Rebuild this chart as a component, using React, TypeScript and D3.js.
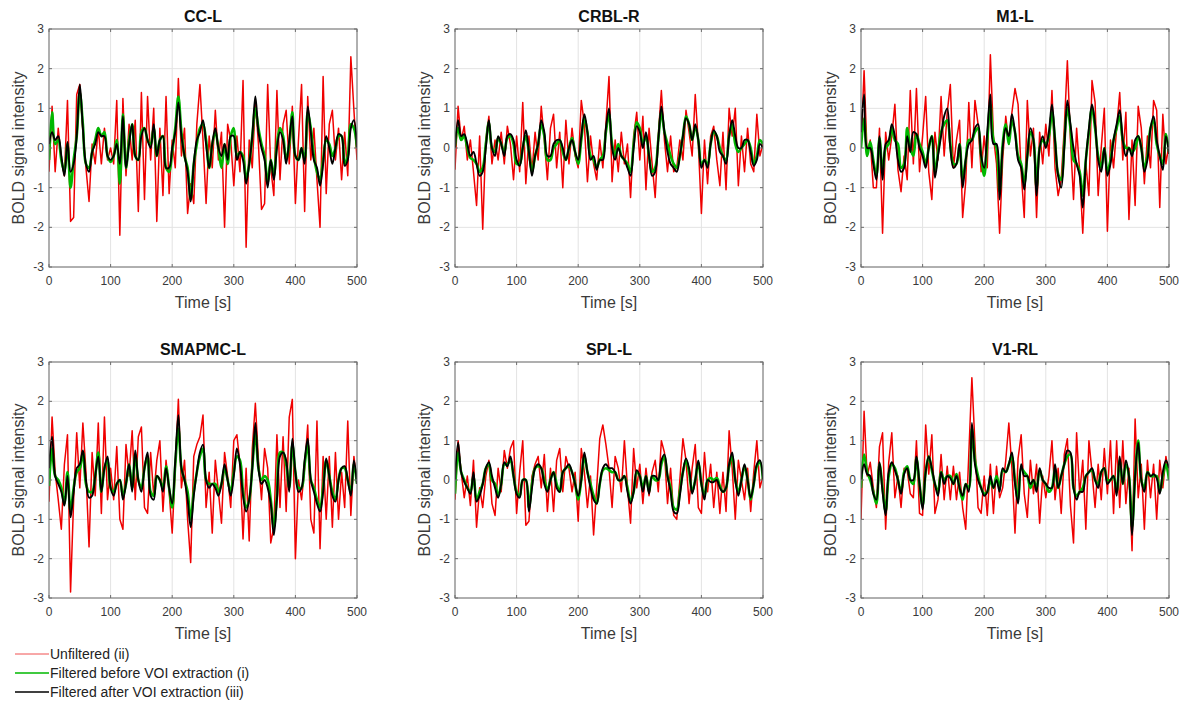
import React from "react";
import * as d3 from "d3";

// ---------- data ----------
const TIME_STEP = 5; // seconds between samples, t = 0..500
const X_TICKS = [0, 100, 200, 300, 400, 500];
const Y_TICKS = [-3, -2, -1, 0, 1, 2, 3];
const TITLES = ["CC-L", "CRBL-R", "M1-L", "SMAPMC-L", "SPL-L", "V1-RL"];
const LEGEND_LABELS = [
  "Unfiltered (ii)",
  "Filtered before VOI extraction (i)",
  "Filtered after VOI extraction (iii)",
];

// CC-L
const ccRed = [
  -0.6, 1.05, -0.6, 0.5, -0.3, -0.7, 1.2, -1.85, -1.75, 1.35,
  1.6, 0.4, -0.5, -1.35, 0.1, -0.4, 0.5, -0.4, 0.5, -0.3,
  0.0, -0.4, 1.2, -2.2, 1.25, -0.7, 0.6, -0.3, 0.7, -1.6,
  1.4, -1.3, 1.3, -0.3, 1.0, -1.85, 0.5, -1.2, 1.3, -1.15,
  0.2, -0.5, 1.75, -0.2, 0.5, -1.65, -0.9, -1.4, 0.6, 1.6,
  0.2, -1.4, 0.3, -0.5, 0.95, -0.3, 0.4, -2.0, 0.6, 0.2,
  -0.95, 0.3, -0.6, 1.7, -2.5, 0.2, -0.5, 1.2, 0.1, -1.55,
  -1.4, 1.6, -0.5, -1.2, 1.45, -0.8, 0.6, 0.95, -0.4, 1.05,
  -1.4, 0.2, 1.6, -1.6, 1.3, -0.3, 0.5, -0.8, -2.0, 1.8,
  -1.15, 0.6, 0.95, -0.3, 0.5, -0.8, 0.4, -0.7, 2.3, 0.95,
  -0.3,
];
const ccBlack = [
  0.1, 0.4, 0.2, 0.3, -0.2, -0.7, 0.15, -0.6, -0.4, 0.3,
  1.6, 0.5, -0.4, -0.6, -0.1, 0.1, 0.4, 0.3, 0.3, -0.2,
  -0.3, -0.2, 0.1, -0.4, 0.8, -0.5, 0.1, 0.6, -0.2, -0.3,
  0.3, 0.5, 0.2, 0.0, 0.6, -0.2, 0.2, 0.3, -0.5, -0.5,
  0.0, 0.4, 1.15, 0.3, -0.2, -0.6, -1.35, -0.4, 0.2, 0.4,
  0.7, 0.1, -0.5, 0.1, 0.5, 0.0, -0.2, 0.1, -0.3, 0.3,
  0.3, -0.3, -0.1, -0.3, -0.9, -0.4, 0.3, 1.3, 0.4, 0.0,
  -0.3, -1.0, -0.3, -0.8, 0.0, 0.4, 0.2, -0.4, 0.2, 0.8,
  -0.2, -0.3, 0.0, -0.4, 1.05, 0.4, -0.3, -0.5, -0.95, -0.4,
  0.3, 0.0, -0.4, 0.0, 0.35, 0.3, -0.45, -0.3, 0.5, 0.7,
  0.0,
];
const ccGreen = [
  -0.3, 0.9, 0.1, 0.2, -0.3, -0.6, 0.1, -1.0, -0.3, 0.3,
  1.4, 0.6, -0.4, -0.5, -0.1, 0.2, 0.5, 0.3, 0.4, -0.2,
  -0.35, -0.2, 0.2, -0.9, 0.85, -0.5, 0.2, 0.6, -0.2, -0.3,
  0.4, 0.5, 0.2, 0.1, 0.5, -0.2, 0.2, 0.3, -0.5, -0.6,
  -0.1, 0.5, 1.3, 0.4, -0.2, -0.5, -1.3, -0.4, 0.1, 0.5,
  0.6, 0.2, -0.5, 0.1, 0.4, 0.0, -0.5, 0.1, -0.4, 0.3,
  0.5, -0.2, -0.1, -0.2, -0.8, -0.4, 0.3, 1.0, 0.5, 0.1,
  -0.2, -0.9, -0.3, -0.7, 0.1, 0.5, 0.3, -0.3, 0.1, 0.9,
  -0.2, -0.3, 0.0, -0.3, 0.9, 0.5, -0.2, -0.6, -0.8, -0.3,
  0.2, 0.1, -0.2, 0.0, 0.3, 0.3, -0.4, -0.2, 0.6, 0.5,
  0.0,
];

// CRBL-R
const crblRed = [
  -0.55, 1.05, 0.2, 0.55, -0.3, 0.2, -0.6, -1.45, 0.3, -2.05,
  0.2, 0.8, -0.4, 0.2, -0.3, 0.4, -0.4, 0.55, 0.1, -0.8,
  0.3, -0.6, 1.15, -0.9, 0.3, -0.6, 0.4, -0.3, 1.05, 0.2,
  -0.8, 0.5, 0.85, -0.5, 0.4, -1.0, 0.7, -0.4, 0.5, -0.2,
  -0.5, 1.2, 0.6, -0.85, 0.3, -0.4, -0.8, 0.2, -0.5, 0.6,
  1.8, -0.85, 0.2, -0.6, 0.4, -0.4, 0.1, -1.25, 0.3, 0.9,
  -0.3, 0.8, -1.05, 0.5, -0.4, -1.25, 0.3, 1.45, 0.2, -0.6,
  0.3, -0.6, -0.5, 0.2, -0.3, 0.95, 0.4, -0.2, 1.35, 0.1,
  -1.65, 0.2, -0.9, 0.3, 0.55, -0.3, -0.95, 0.4, -1.05, 1.0,
  0.3, 1.0, -0.95, 0.3, -0.6, 0.5, -0.4, -0.6, 0.85, -0.2,
  0.1,
];
const crblBlack = [
  0.0, 0.7, 0.3, 0.35, 0.1, -0.2, -0.1, -0.4, -0.7, -0.6,
  0.0, 0.7, 0.0, -0.2, 0.3, 0.1, -0.2, 0.3, 0.35, 0.2,
  -0.3, -0.45, 0.0, 0.45, -0.1, -0.7, -0.2, 0.1, 0.7, 0.4,
  -0.2, -0.2, 0.1, 0.2, 0.2, 0.0, -0.3, 0.0, 0.2, -0.1,
  -0.3, 0.3, 0.85, 0.4, -0.3, -0.2, -0.55, -0.3, -0.3, 0.5,
  1.0, 0.0, -0.3, 0.0, -0.2, -0.3, -0.5, -0.7, 0.0, 0.55,
  0.4, 0.0, 0.4, -0.2, -0.7, -0.6, 0.2, 1.05, 0.4, -0.1,
  -0.4, -0.5, -0.6, -0.2, 0.3, 0.75, 0.6, 0.2, 0.6, 0.2,
  -0.5, -0.3, -0.5, 0.1, 0.45, 0.3, -0.1, -0.2, -0.4, 0.3,
  0.7, 0.3, 0.0, 0.0, 0.2, 0.2, -0.1, -0.45, -0.3, 0.1,
  0.0,
];
const crblGreen = [
  0.05, 0.5, 0.2, 0.3, 0.0, -0.25, -0.3, -0.4, -0.6, -0.5,
  0.1, 0.65, 0.0, -0.1, 0.25, 0.1, -0.1, 0.25, 0.3, 0.1,
  -0.4, -0.4, 0.0, 0.3, -0.1, -0.6, -0.2, 0.1, 0.6, 0.3,
  -0.3, -0.3, 0.0, 0.1, 0.2, -0.1, -0.3, 0.0, 0.25, -0.1,
  -0.4, 0.2, 0.75, 0.4, -0.2, -0.3, -0.5, -0.3, -0.2, 0.4,
  0.85, 0.1, -0.2, 0.1, -0.2, -0.3, -0.4, -0.6, 0.1, 0.65,
  0.5, 0.1, 0.3, -0.2, -0.6, -0.5, 0.2, 0.9, 0.4, 0.1,
  -0.2, -0.4, -0.5, -0.2, 0.3, 0.8, 0.6, 0.2, 0.55, 0.2,
  -0.4, -0.3, -0.4, 0.1, 0.4, 0.3, 0.0, -0.2, -0.3, 0.3,
  0.6, 0.1, -0.1, 0.0, 0.1, 0.2, 0.0, -0.4, -0.2, 0.2,
  0.1,
];

// M1-L
const m1Red = [
  0.0, 1.95, -0.2, 0.2, -1.0, -1.0, 0.5, -2.15, 0.4, -0.3,
  0.3, 1.1, -0.55, -1.1, -0.2, -0.8, 1.45, -0.4, 1.5, -0.6,
  0.3, 1.3, -0.6, -1.3, 0.4, -0.3, 1.3, -0.2, 0.9, 1.6,
  -0.5, 0.2, 0.7, -1.75, -0.85, 1.15, -0.5, 1.2, 0.6, -0.6,
  0.3, -0.5, 2.35, 0.3, -0.4, -2.15, -0.3, 0.8, 0.1, 0.9,
  1.5, 1.1, -0.6, -1.75, 1.2, -0.2, 0.5, -1.75, 0.4, -0.4,
  0.6, -0.2, 1.45, -0.5, -1.2, -0.8, 0.5, 2.2, 0.2, -1.3,
  0.5, -0.6, -2.15, -0.4, -1.2, 1.7, 1.15, -1.2, 0.0, 1.0,
  -2.1, 0.2, -0.5, 0.5, 1.4, -0.3, 0.9, -1.8, 0.2, -1.45,
  1.05, 0.5, -0.9, 0.3, -0.5, 1.2, 0.95, -1.5, 0.85, -0.4,
  0.1,
];
const m1Black = [
  0.4, 1.35, 0.0, 0.0, -0.4, -0.8, 0.3, -0.8, 0.1, 0.2,
  0.6, 0.3, -0.3, -0.6, -0.5, 0.3, -0.1, 0.4, 0.35, 0.0,
  -0.2, -0.5, 0.0, 0.3, -0.75, -0.2, 0.3, 0.8, 1.0, 0.0,
  -0.5, -0.4, 0.1, -1.0, -0.3, 0.1, 0.2, 0.5, 0.6, -0.2,
  -0.5, 0.4, 1.35, 0.1, 0.1, -1.3, 0.0, 0.5, 0.3, 0.85,
  0.4, -0.3, -0.5, -1.05, -0.2, 0.5, 0.2, -1.2, 0.0, 0.3,
  0.0, 0.4, 1.1, 0.2, -0.7, -1.0, 0.0, 1.2, 0.6, 0.0,
  -0.4, -0.7, -1.5, -0.3, 0.5, 1.1, 0.6, -0.3, -0.6, 0.0,
  -0.7, -0.4, 0.2, 0.6, 0.95, 0.2, -0.2, 0.0, -0.2, 0.2,
  0.3, 0.0, -0.6, -0.3, 0.5, 0.8, 0.2, -0.2, -0.55, 0.3,
  -0.15,
];
const m1Green = [
  0.0, 0.75, -0.2, 0.15, -0.3, -0.7, 0.25, -0.6, 0.0, 0.1,
  0.5, 0.2, 0.1, -0.5, -0.4, 0.5, 0.0, -0.2, 0.35, 0.1,
  -0.1, -0.4, 0.0, 0.3, -0.6, -0.1, 0.4, 0.6, 0.7, 0.1,
  -0.4, -0.4, 0.1, -0.8, -0.3, 0.2, 0.2, 0.4, 0.5, -0.2,
  -0.7, 0.2, 1.1, 0.2, 0.0, -1.1, 0.1, 0.6, 0.1, 0.7,
  0.4, -0.2, -0.4, -0.9, -0.2, 0.4, 0.2, -1.0, 0.0, 0.2,
  0.1, 0.3, 0.9, 0.2, -0.65, -0.8, 0.1, 1.0, 0.5, -0.3,
  -0.4, -0.6, -1.2, -0.3, 0.4, 1.0, 0.5, -0.2, -0.5, 0.0,
  -0.6, -0.3, 0.2, 0.5, 0.8, 0.2, 0.0, 0.0, -0.1, 0.0,
  0.3, 0.0, -0.5, -0.2, 0.5, 0.7, 0.1, -0.2, -0.4, 0.35,
  -0.1,
];

// SMAPMC-L
const smaRed = [
  -0.55, 1.6, 0.2, -0.5, -1.25, 0.4, 1.15, -2.85, -0.5, 1.2,
  -0.2, 1.45, 0.2, -1.7, 0.7, -0.4, 1.45, -0.85, 1.6, -0.5,
  0.3, -0.5, 0.85, -1.0, -1.25, 0.9, 0.1, 1.25, -0.5, 1.1,
  1.35, -0.7, -0.85, 0.7, -0.4, 0.5, 1.0, -0.8, 0.5, -0.3,
  -1.35, 0.3, 2.05, -0.2, 0.5, -1.0, -2.1, 0.6, 0.9, 1.1,
  1.65, -0.7, 0.2, -1.35, 0.5, -0.3, -1.1, 0.7, 0.1, -0.7,
  1.0, 1.15, 0.4, -1.5, 0.3, -1.55, 0.8, 1.95, 0.5, -0.5,
  0.8, 0.3, -1.6, -1.2, 1.15, -0.7, 1.1, -0.8, 1.6, 2.05,
  -2.0, 0.0, -0.5, 0.3, 1.4, -1.0, -1.35, 1.5, -1.75, 0.6,
  -1.0, 0.6, -1.2, 0.7, -1.0, 0.2, -0.7, 1.5, -0.9, 0.6,
  -0.1,
];
const smaBlack = [
  0.3, 1.1, 0.1, -0.1, -0.3, -0.65, 0.1, -0.95, -0.3, 0.3,
  0.4, 0.75, 0.0, -0.45, -0.4, 0.1, 0.6, -0.3, 0.3, 0.6,
  -0.2, -0.4, -0.1, 0.0, -0.5, -0.1, 0.4, -0.3, 0.75, 0.0,
  -0.3, 0.3, 0.7, -0.4, -0.5, 0.1, 0.0, -0.3, 0.3, -0.2,
  -0.6, 0.5, 1.65, 0.3, 0.0, -0.5, -1.2, -0.4, 0.2, 0.7,
  0.9, 0.0, -0.2, -0.1, -0.2, -0.4, -0.1, 0.4, 0.0, -0.4,
  0.1, 0.8, 0.4, -0.4, -0.8, -0.5, 0.3, 1.45, 0.3, -0.1,
  0.0, -0.2, -0.6, -1.4, -0.5, 0.6, 0.7, 0.5, -0.3, 1.05,
  0.2, -0.3, -0.2, 0.5, 1.05, 0.0, -0.3, -0.6, -0.8, -0.3,
  0.55, 0.1, -0.4, -0.55, 0.0, 0.3, 0.35, 0.0, -0.4, 0.5,
  -0.1,
];
const smaGreen = [
  -0.15, 0.8, 0.1, 0.0, -0.2, -0.6, 0.2, -0.8, -0.2, 0.2,
  0.3, 0.7, -0.1, -0.3, -0.3, 0.1, 0.7, -0.3, 0.3, 0.5,
  -0.2, -0.3, -0.1, 0.0, -0.4, -0.1, 0.4, -0.2, 0.65, 0.0,
  -0.2, 0.3, 0.6, -0.3, -0.4, 0.1, 0.0, -0.2, 0.35, -0.2,
  -0.7, 0.4, 1.3, 0.3, 0.0, -0.3, -1.0, -0.3, 0.2, 0.6,
  0.8, 0.0, -0.1, -0.1, -0.1, -0.3, -0.1, 0.3, 0.0, -0.3,
  0.2, 0.6, 0.5, -0.3, -0.7, -0.5, 0.3, 1.2, 0.3, 0.0,
  0.1, 0.0, -0.5, -1.2, -0.4, 0.7, 0.7, 0.4, -0.2, 0.9,
  0.2, -0.2, -0.2, 0.4, 0.9, 0.0, -0.2, -0.5, -0.7, -0.2,
  0.5, 0.1, -0.3, -0.5, 0.0, 0.3, 0.3, 0.0, -0.3, 0.4,
  -0.1,
];

// SPL-L
const splRed = [
  -0.5, 1.0, 0.2, -0.45, 0.1, -0.65, 0.5, -1.2, -0.2, -0.7,
  0.1, 0.5, -0.6, -0.9, 0.3, -0.3, 0.75, 0.3, 0.8, 1.0,
  -0.85, 0.2, 1.0, -1.15, -1.05, 0.1, 0.4, 0.6, -0.2, 0.65,
  -0.8, 0.3, -0.8, 0.5, 0.8, -0.3, 0.6, 0.3, -0.3, 0.2,
  -1.05, 0.8, 0.2, -0.7, 0.1, -1.4, -0.2, 1.05, 1.4, 0.9,
  0.3, -0.7, 0.6, 0.3, -0.3, 1.0, -0.2, -1.1, 0.8, -0.2,
  0.4, -0.6, 0.3, -0.4, 0.2, 0.5, -0.3, 1.0, 0.7, -0.6,
  0.3, -0.9, -1.0, 0.0, 1.05, 0.5, -0.6, 0.3, 0.9, -0.7,
  -0.85, 0.7, -0.3, 0.4, -0.7, 0.2, -0.85, 0.2, -0.8, 1.25,
  0.3, -1.0, 0.5, 0.0, -0.5, 0.3, -0.8, 0.2, 1.0, -0.2,
  0.1,
];
const splBlack = [
  0.0, 0.95, 0.2, -0.05, -0.2, -0.35, 0.2, -0.55, -0.4, -0.1,
  0.3, 0.45, 0.1, -0.2, -0.45, -0.1, 0.45, 0.35, 0.6, 0.1,
  -0.35, -0.45, 0.0, 0.0, -0.8, -0.2, 0.3, 0.4, 0.3, -0.1,
  -0.3, 0.0, 0.2, -0.2, -0.3, 0.2, 0.3, 0.4, 0.2, -0.1,
  -0.4, 0.0, 0.7, 0.2, -0.2, -0.5, -0.6, -0.1, 0.3, 0.4,
  0.3, 0.3, 0.2, 0.0, 0.0, 0.1, -0.3, -0.6, -0.3, 0.25,
  0.1, -0.3, 0.1, -0.35, 0.1, 0.1, 0.0, 0.5, 0.65, 0.1,
  -0.3, -0.8, -0.85, -0.4, 0.2, 0.55, 0.3, -0.35, 0.0, 0.5,
  -0.1, -0.5, 0.0, -0.05, -0.05, 0.0, -0.2, -0.3, -0.2, 0.4,
  0.7, 0.0, -0.4, 0.0, 0.4, 0.0, -0.45, -0.1, 0.4, 0.5,
  0.0,
];
const splGreen = [
  -0.35, 0.7, 0.2, 0.0, -0.2, -0.3, 0.1, -0.5, -0.3, -0.1,
  0.3, 0.4, 0.0, -0.1, -0.4, -0.1, 0.4, 0.4, 0.5, 0.1,
  -0.3, -0.4, 0.0, 0.0, -0.7, -0.1, 0.3, 0.35, 0.3, 0.0,
  -0.25, 0.0, 0.2, -0.1, -0.3, 0.2, 0.3, 0.35, 0.2, -0.1,
  -0.5, 0.0, 0.6, 0.2, -0.1, -0.4, -0.6, -0.1, 0.25, 0.3,
  0.25, 0.2, 0.2, 0.0, 0.0, 0.1, -0.2, -0.55, -0.3, 0.2,
  0.1, -0.2, 0.1, -0.3, 0.1, 0.0, 0.0, 0.4, 0.6, 0.1,
  -0.2, -0.7, -0.75, -0.3, 0.2, 0.5, 0.2, -0.3, 0.0, 0.45,
  -0.1, -0.4, 0.0, 0.05, 0.0, 0.05, -0.15, -0.3, -0.2, 0.35,
  0.6, 0.0, -0.3, 0.0, 0.35, 0.0, -0.5, -0.1, 0.35, 0.45,
  0.0,
];

// V1-RL
const v1Red = [
  -1.0, 1.75, 0.1, 0.45, -0.2, -0.7, 0.85, 1.2, -1.25, 0.45,
  1.2, -0.45, 0.1, -0.7, 0.3, 0.25, -0.35, -0.45, 1.0, -0.85,
  -0.9, 1.4, 0.15, 1.15, -0.85, -0.5, 0.65, -0.5, 0.35, -0.5,
  0.35, -0.5, 0.2, -0.7, -1.25, 0.65, 2.6, 0.9, -0.7, -0.85,
  0.1, -0.9, 0.4, -0.85, 0.35, -0.45, -0.2, 0.5, 1.45, 0.3,
  -1.35, 0.55, 1.15, -0.35, -0.95, 0.5, -0.35, 0.4, -1.1, 0.1,
  -0.45, 0.1, 1.0, -0.5, 0.3, -0.85, 0.65, 1.05, -0.65, -1.6,
  1.2, -0.35, 0.5, -1.25, 1.0, 0.2, -0.7, 0.4, -0.5, 0.8,
  -0.35, 1.0, -0.85, 1.0, -0.7, 1.0, -0.6, 0.3, -1.8, 1.55,
  -0.45, 0.4, -1.25, 0.5, -0.45, 0.4, -1.0, 0.5, -0.2, 0.6,
  0.1,
];
const v1Black = [
  0.0, 0.4, 0.15, 0.1, -0.35, -0.5, 0.45, -0.3, -0.9, 0.2,
  0.45, 0.25, 0.0, -0.35, 0.15, 0.3, 0.0, 0.0, 0.6, -0.1,
  -0.75, 0.2, 0.6, 0.3, -0.1, -0.4, 0.2, -0.1, 0.1, 0.05,
  -0.1, 0.1, -0.2, -0.4, -0.1, -0.3, 1.45, 0.4, 0.0, -0.2,
  -0.4, -0.3, 0.1, -0.2, 0.0, -0.3, 0.3, 0.2, 0.4, 0.7,
  -0.1, -0.6, 0.4, 0.1, 0.1, -0.1, 0.0, -0.3, 0.3, 0.0,
  -0.1, -0.2, -0.2, 0.4, -0.2, 0.1, 0.4, 0.75, 0.7, -0.2,
  -0.5, -0.3, -0.3, 0.1, 0.2, 0.3, 0.0, -0.2, 0.2, 0.3,
  -0.1, 0.0, 0.1, -0.4, 0.6, -0.1, 0.5, 0.1, -1.4, 0.1,
  0.95, 0.0, -0.3, 0.2, 0.1, 0.15, 0.05, -0.35, 0.2, 0.5,
  0.3,
];
const v1Green = [
  -0.2, 0.65, 0.2, 0.0, -0.3, -0.6, 0.4, -0.2, -0.8, 0.1,
  0.4, 0.3, 0.0, -0.3, 0.2, 0.35, 0.0, -0.1, 0.55, -0.1,
  -0.65, 0.2, 0.6, 0.25, -0.1, -0.3, 0.2, 0.0, 0.1, 0.1,
  -0.1, 0.15, -0.2, -0.5, -0.1, -0.2, 1.3, 0.5, 0.1, -0.2,
  -0.35, -0.3, 0.0, -0.2, 0.1, -0.2, 0.25, 0.2, 0.4, 0.6,
  0.0, -0.5, 0.3, 0.2, 0.1, -0.2, 0.0, -0.2, 0.25, 0.0,
  -0.1, -0.3, -0.2, 0.3, -0.2, 0.1, 0.4, 0.6, 0.65, -0.2,
  -0.4, -0.3, -0.2, 0.1, 0.2, 0.25, 0.0, -0.1, 0.2, 0.3,
  0.0, 0.0, 0.1, -0.3, 0.5, -0.1, 0.4, 0.1, -1.2, 0.1,
  1.0, 0.0, -0.2, 0.2, 0.1, 0.1, 0.1, -0.3, 0.1, 0.4,
  0.0,
];

const RED_SERIES = [ccRed, crblRed, m1Red, smaRed, splRed, v1Red];
const GREEN_SERIES = [ccGreen, crblGreen, m1Green, smaGreen, splGreen, v1Green];
const BLACK_SERIES = [ccBlack, crblBlack, m1Black, smaBlack, splBlack, v1Black];

// ---------- layout / style ----------
const W = 1185;
const H = 702;
const COL_LEFT = [49, 455, 861];
const PLOT_W = 308;
const ROWS = [
  { top: 29, bottom: 267 },
  { top: 362, bottom: 598 },
];
const FONT = "'Liberation Sans', Arial, Helvetica, sans-serif";
const RED = "#f00000";
const GREEN = "#00b800";
const BLACK = "#000000";
const AXIS_COLOR = "#6e6e6e";
const GRID_COLOR = "#e3e3e3";
const TEXT_COLOR = "#3a3a3a";

function Panel({ idx }: { idx: number }) {
  const col = idx % 3;
  const row = Math.floor(idx / 3);
  const left = COL_LEFT[col];
  const { top, bottom } = ROWS[row];
  const x = d3.scaleLinear().domain([0, 500]).range([left, left + PLOT_W]);
  const y = d3.scaleLinear().domain([-3, 3]).range([bottom, top]);

  const toPts = (arr: number[]) => arr.map((v, i) => [i * TIME_STEP, v] as [number, number]);
  const lineLinear = d3
    .line<[number, number]>()
    .x((d) => x(d[0]))
    .y((d) => y(d[1]));
  const lineSmooth = d3
    .line<[number, number]>()
    .x((d) => x(d[0]))
    .y((d) => y(d[1]))
    .curve(d3.curveCatmullRom.alpha(0.5));

  const clipId = `clip-${idx}`;
  const midX = left + PLOT_W / 2;

  return (
    <g>
      <defs>
        <clipPath id={clipId}>
          <rect x={left} y={top} width={PLOT_W} height={bottom - top} />
        </clipPath>
      </defs>
      <rect x={left} y={top} width={PLOT_W} height={bottom - top} fill="#fff" />
      {X_TICKS.map((t) => (
        <line key={`gx${t}`} x1={x(t)} x2={x(t)} y1={top} y2={bottom} stroke={GRID_COLOR} strokeWidth={1} />
      ))}
      {Y_TICKS.map((t) => (
        <line key={`gy${t}`} x1={left} x2={left + PLOT_W} y1={y(t)} y2={y(t)} stroke={GRID_COLOR} strokeWidth={1} />
      ))}
      <g clipPath={`url(#${clipId})`}>
        <path d={lineLinear(toPts(RED_SERIES[idx])) || ""} fill="none" stroke={RED} strokeWidth={1.5} strokeLinejoin="round" />
        <path d={lineSmooth(toPts(GREEN_SERIES[idx])) || ""} fill="none" stroke={GREEN} strokeWidth={2.6} strokeLinejoin="round" />
        <path d={lineSmooth(toPts(BLACK_SERIES[idx])) || ""} fill="none" stroke={BLACK} strokeWidth={1.9} strokeLinejoin="round" />
      </g>
      <rect x={left} y={top} width={PLOT_W} height={bottom - top} fill="none" stroke={AXIS_COLOR} strokeWidth={1} />
      {X_TICKS.map((t) => (
        <g key={`tx${t}`}>
          <line x1={x(t)} x2={x(t)} y1={bottom} y2={bottom - 3} stroke={AXIS_COLOR} />
          <line x1={x(t)} x2={x(t)} y1={top} y2={top + 3} stroke={AXIS_COLOR} />
          <text x={x(t)} y={bottom + 14} textAnchor="middle" dominantBaseline="central" fontSize={12} fill={TEXT_COLOR} fontFamily={FONT}>
            {t}
          </text>
        </g>
      ))}
      {Y_TICKS.map((t) => (
        <g key={`ty${t}`}>
          <line x1={left} x2={left + 3} y1={y(t)} y2={y(t)} stroke={AXIS_COLOR} />
          <line x1={left + PLOT_W} x2={left + PLOT_W - 3} y1={y(t)} y2={y(t)} stroke={AXIS_COLOR} />
          <text x={left - 5} y={y(t)} textAnchor="end" dominantBaseline="central" fontSize={12} fill={TEXT_COLOR} fontFamily={FONT}>
            {t}
          </text>
        </g>
      ))}
      <text x={midX} y={top - 13} textAnchor="middle" dominantBaseline="central" fontSize={16} fontWeight="bold" fill="#111" fontFamily={FONT}>
        {TITLES[idx]}
      </text>
      <text x={midX} y={bottom + 35} textAnchor="middle" dominantBaseline="central" fontSize={16} fill={TEXT_COLOR} fontFamily={FONT}>
        Time [s]
      </text>
      <text
        transform={`translate(${left - 31},${(top + bottom) / 2}) rotate(-90)`}
        textAnchor="middle"
        dominantBaseline="central"
        fontSize={16}
        fill={TEXT_COLOR}
        fontFamily={FONT}
      >
        BOLD signal intensity
      </text>
    </g>
  );
}

export default function App() {
  const legendColors = ["#f05050", GREEN, BLACK];
  const legendWidths = [1, 1.6, 1.6];
  const legendY = [654, 673, 692];
  return (
    <svg
      width={W}
      height={H}
      viewBox={`0 0 ${W} ${H}`}
      style={{ position: "absolute", left: 0, top: 0, background: "#fff" }}
    >
      <rect x={0} y={0} width={W} height={H} fill="#fff" />
      {TITLES.map((_, i) => (
        <Panel key={i} idx={i} />
      ))}
      {LEGEND_LABELS.map((lab, i) => (
        <g key={lab}>
          <line x1={15} x2={49} y1={legendY[i]} y2={legendY[i]} stroke={legendColors[i]} strokeWidth={legendWidths[i]} />
          <text x={50} y={legendY[i]} dominantBaseline="central" fontSize={14} fill="#222" fontFamily={FONT}>
            {lab}
          </text>
        </g>
      ))}
    </svg>
  );
}
